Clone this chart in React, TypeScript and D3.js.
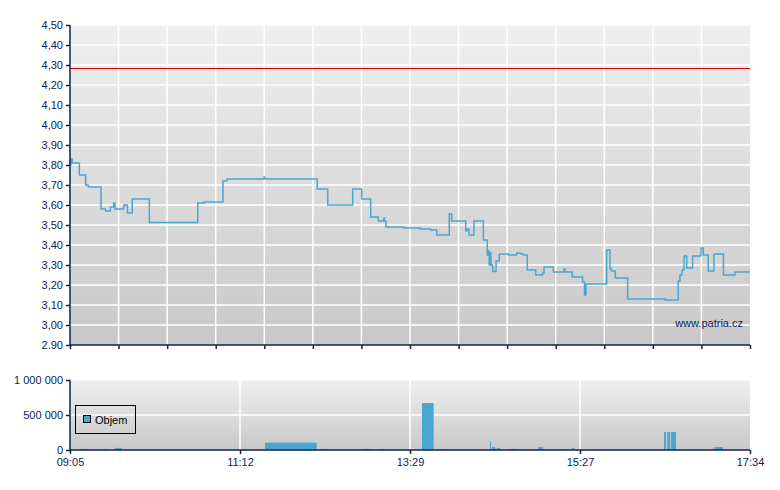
import { useEffect, useRef } from 'react';
import * as d3 from 'd3';

// session minutes counted from 09:05 (0) to 17:34 (509)
const SESSION_END = 509;
const TIME_LABELS = ['09:05', '11:12', '13:29', '15:27', '17:34'];

const PRICE_TICKS = [4.5, 4.4, 4.3, 4.2, 4.1, 4.0, 3.9, 3.8, 3.7, 3.6, 3.5, 3.4, 3.3, 3.2, 3.1, 3.0, 2.9];
const PRICE_TICK_LABELS = ['4,50', '4,40', '4,30', '4,20', '4,10', '4,00', '3,90', '3,80', '3,70', '3,60', '3,50', '3,40', '3,30', '3,20', '3,10', '3,00', '2.90'];
const REFERENCE_PRICE = 4.285;

const VOLUME_TICKS = [0, 500000, 1000000];
const VOLUME_TICK_LABELS = ['0', '500 000', '1 000 000'];

// [minute, price] – price holds until next point
const PRICE_POINTS: [number, number][] = [
  [0, 3.80], [0.6, 3.83], [1.7, 3.81], [7, 3.75], [11.7, 3.70], [13.7, 3.69],
  [23.2, 3.58], [26.7, 3.57], [30.2, 3.59], [32.7, 3.61], [33.7, 3.58], [40.2, 3.60],
  [43, 3.56], [46.6, 3.63], [59.4, 3.513], [95.6, 3.61], [100.5, 3.615], [114.5, 3.72],
  [117.5, 3.73], [145.2, 3.74], [145.6, 3.73], [185.1, 3.68], [192.9, 3.60], [211.6, 3.68],
  [218.3, 3.63], [225.1, 3.54], [230.8, 3.52], [234.8, 3.535], [235.4, 3.52], [236.5, 3.49],
  [250, 3.485], [262, 3.48], [270, 3.475], [274.5, 3.45], [283.9, 3.555], [285.7, 3.52],
  [296.2, 3.47], [297.2, 3.48], [298.7, 3.45], [302.4, 3.52], [309.4, 3.425], [312.3, 3.35],
  [313.1, 3.37], [313.8, 3.30], [314.4, 3.36], [315.1, 3.30], [316.4, 3.267], [318.9, 3.32],
  [321.3, 3.355], [328.1, 3.35], [334.4, 3.36], [337.6, 3.355], [339.3, 3.35], [342.3, 3.275],
  [348.6, 3.25], [353.8, 3.26], [354.8, 3.29], [361.8, 3.265], [369.8, 3.28], [370.5, 3.265],
  [375.9, 3.24], [383.7, 3.215], [385.1, 3.15], [386.2, 3.205], [401.7, 3.375], [404.2, 3.28],
  [405.4, 3.27], [408.2, 3.235], [417.4, 3.13], [445.4, 3.125], [455.3, 3.22], [456.6, 3.25],
  [458.1, 3.275], [459.6, 3.345], [461.6, 3.285], [466.1, 3.345], [472.3, 3.385], [474.0, 3.35],
  [477.7, 3.27], [482.0, 3.355], [489.1, 3.25], [497.7, 3.265], [509, 3.265],
];

// [start minute, end minute, volume]
const VOLUME_BARS: [number, number, number][] = [
  [7.5, 14, 15000], [25.4, 27, 12000], [33.7, 38.7, 30000], [146, 184.7, 105000],
  [186.4, 192.9, 15000], [218.8, 225.3, 15000], [231.3, 235, 12000], [263.5, 272.2, 670000],
  [274.7, 283.7, 12000], [314.4, 315.1, 120000], [315.9, 318.1, 43000], [318.1, 319.6, 20000],
  [319.6, 321.9, 30000], [328.6, 330.6, 15000], [331.4, 334.4, 15000], [350.3, 353.1, 43000],
  [353.1, 354, 43000], [369.8, 371.8, 12000], [375.7, 377.3, 30000], [403.4, 404, 8000],
  [416.2, 416.8, 8000], [444.7, 446.2, 257000], [447.1, 449.1, 257000], [449.8, 453.6, 257000],
  [455.1, 455.6, 8000], [481.3, 481.8, 40000], [482.8, 488.8, 43000],
];

const NAVY = '#0d2353';
const LINE_BLUE = '#49a6d0';
const FONT = 'Arial, "Liberation Sans", sans-serif';

export default function App() {
  const svgRef = useRef<SVGSVGElement>(null);

  useEffect(() => {
    const svg = d3.select(svgRef.current!);
    svg.selectAll('*').remove();

    const left = 70, right = 750;
    const main = { top: 25, bottom: 345 };
    const vol = { top: 380, bottom: 450 };

    const x = d3.scaleLinear().domain([0, SESSION_END]).range([left, right]);
    const yP = d3.scaleLinear().domain([2.9, 4.5]).range([main.bottom, main.top]);
    const yV = d3.scaleLinear().domain([0, 1000000]).range([vol.bottom, vol.top]);

    const defs = svg.append('defs');
    const grad = defs.append('linearGradient').attr('id', 'bg').attr('x1', 0).attr('y1', 0).attr('x2', 0).attr('y2', 1);
    grad.append('stop').attr('offset', '0%').attr('stop-color', '#efefef');
    grad.append('stop').attr('offset', '100%').attr('stop-color', '#c8c8c8');

    // ---- Price panel ----
    svg.append('rect').attr('x', left).attr('y', main.top)
      .attr('width', right - left).attr('height', main.bottom - main.top).attr('fill', 'url(#bg)');

    const mainCols = d3.range(15).map((i) => (i * SESSION_END) / 14);
    svg.append('g').selectAll('line').data(PRICE_TICKS.slice(0, -1)).join('line')
      .attr('x1', left).attr('x2', right)
      .attr('y1', (d) => yP(d)).attr('y2', (d) => yP(d))
      .attr('stroke', '#fff').attr('stroke-width', 1.5);
    svg.append('g').selectAll('line').data(mainCols.slice(1, -1)).join('line')
      .attr('x1', (d) => x(d)).attr('x2', (d) => x(d))
      .attr('y1', main.top).attr('y2', main.bottom)
      .attr('stroke', '#fff').attr('stroke-width', 1.5);

    // reference price line
    const refY = Math.round(yP(REFERENCE_PRICE)) + 0.5;
    svg.append('line').attr('x1', left).attr('x2', right)
      .attr('y1', refY).attr('y2', refY)
      .attr('stroke', '#e00000').attr('stroke-width', 1).attr('shape-rendering', 'crispEdges');

    const line = d3.line<[number, number]>().x((d) => x(d[0])).y((d) => yP(d[1])).curve(d3.curveStepAfter);
    svg.append('path').datum(PRICE_POINTS).attr('d', line)
      .attr('fill', 'none').attr('stroke', LINE_BLUE).attr('stroke-width', 1.5).attr('stroke-linejoin', 'round');

    svg.append('text').attr('x', 743).attr('y', 327).attr('text-anchor', 'end')
      .attr('font-family', FONT).attr('font-size', 11).attr('fill', NAVY).text('www.patria.cz');

    // axes
    const yAxisP = svg.append('g').attr('transform', `translate(${left},0)`)
      .call(d3.axisLeft(yP).tickValues(PRICE_TICKS).tickSize(4).tickPadding(3)
        .tickFormat((_, i) => PRICE_TICK_LABELS[i]));
    const xAxisP = svg.append('g').attr('transform', `translate(0,${main.bottom})`)
      .call(d3.axisBottom(x).tickValues(mainCols).tickSize(4).tickFormat(() => ''));

    // ---- Volume panel ----
    svg.append('rect').attr('x', left).attr('y', vol.top)
      .attr('width', right - left).attr('height', vol.bottom - vol.top).attr('fill', 'url(#bg)');
    svg.append('line').attr('x1', left).attr('x2', right).attr('y1', vol.top + 0.5).attr('y2', vol.top + 0.5)
      .attr('stroke', '#f6f6f6').attr('stroke-width', 1);

    const volCols = d3.range(5).map((i) => (i * SESSION_END) / 4);
    svg.append('g').selectAll('line').data(VOLUME_TICKS.slice(1, -1)).join('line')
      .attr('x1', left).attr('x2', right)
      .attr('y1', (d) => yV(d)).attr('y2', (d) => yV(d))
      .attr('stroke', '#fff').attr('stroke-width', 1.5);
    svg.append('g').selectAll('line').data(volCols.slice(1, -1)).join('line')
      .attr('x1', (d) => x(d)).attr('x2', (d) => x(d))
      .attr('y1', vol.top).attr('y2', vol.bottom)
      .attr('stroke', '#fff').attr('stroke-width', 1.5);

    svg.append('g').selectAll('rect').data(VOLUME_BARS).join('rect')
      .attr('x', (d) => x(d[0]))
      .attr('width', (d) => Math.max(1, x(d[1]) - x(d[0])))
      .attr('y', (d) => yV(d[2]))
      .attr('height', (d) => Math.max(1, yV(0) - yV(d[2])))
      .attr('fill', LINE_BLUE);

    const yAxisV = svg.append('g').attr('transform', `translate(${left},0)`)
      .call(d3.axisLeft(yV).tickValues(VOLUME_TICKS).tickSize(4).tickPadding(3)
        .tickFormat((_, i) => VOLUME_TICK_LABELS[i]));
    const xAxisV = svg.append('g').attr('transform', `translate(0,${vol.bottom})`)
      .call(d3.axisBottom(x).tickValues(volCols).tickSize(4).tickPadding(4)
        .tickFormat((_, i) => TIME_LABELS[i]));

    [yAxisP, xAxisP, yAxisV, xAxisV].forEach((g) => {
      g.selectAll('path').attr('stroke', NAVY).attr('stroke-width', 1.5);
      g.selectAll('line').attr('stroke', NAVY).attr('stroke-width', 1.5);
      g.selectAll('text').attr('fill', NAVY).attr('font-family', FONT).attr('font-size', 11);
    });
    yAxisP.select('.domain').attr('d', `M0,${main.top}V${main.bottom}`);
    yAxisV.select('.domain').attr('d', `M0,${vol.top}V${vol.bottom}`);
    xAxisP.select('.domain').attr('d', `M${left},0H${right}`);
    xAxisV.select('.domain').attr('d', `M${left},0H${right}`);

    // legend
    const leg = svg.append('g');
    leg.append('rect').attr('x', 75.5).attr('y', 405.5).attr('width', 60).attr('height', 28)
      .attr('fill', 'none').attr('stroke', '#000').attr('stroke-width', 1);
    leg.append('rect').attr('x', 83.5).attr('y', 415.5).attr('width', 7).attr('height', 7)
      .attr('fill', LINE_BLUE).attr('stroke', '#000').attr('stroke-width', 1);
    leg.append('text').attr('x', 95).attr('y', 424).attr('font-family', FONT).attr('font-size', 11)
      .attr('fill', '#000').text('Objem');
  }, []);

  return (
    <div>
      <style>{'body{margin:0;background:#fff}'}</style>
      <svg ref={svgRef} width={780} height={490} role="img" aria-label="Patria price chart" />
    </div>
  );
}
